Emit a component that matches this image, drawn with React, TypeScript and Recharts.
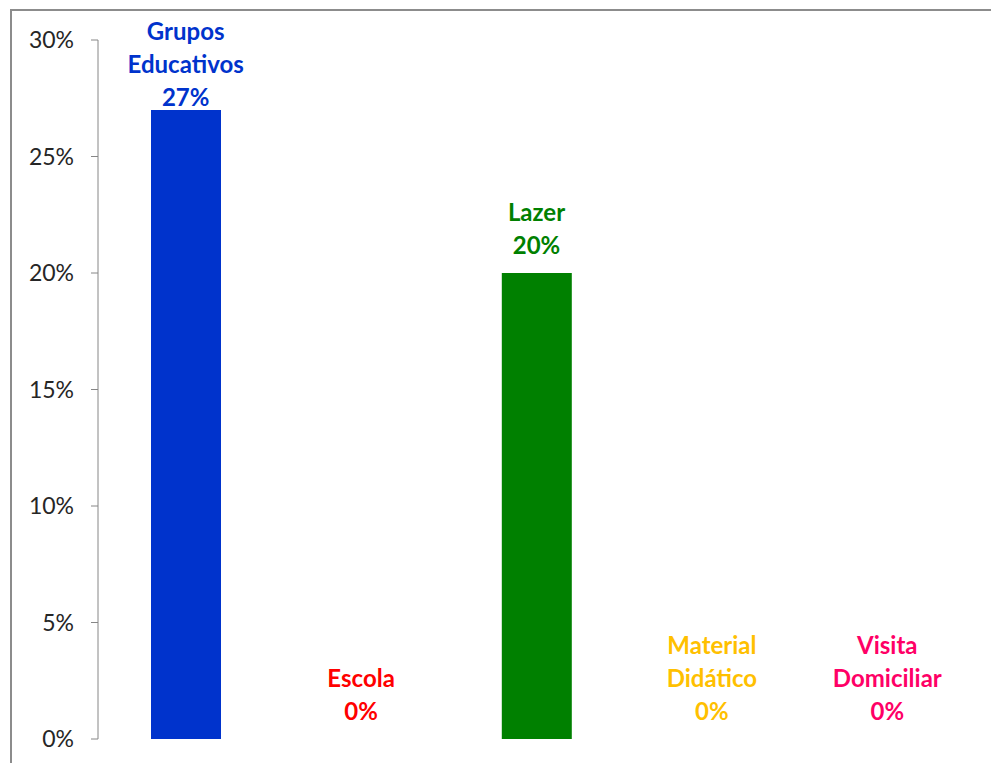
import React from "react";
import { ComposedChart, Bar, Line, XAxis, YAxis, Cell } from "recharts";

const categories = ["Grupos\nEducativos", "Escola", "Lazer", "Material\nDidático", "Visita\nDomiciliar"];
const values = [27, 0, 20, 0, 0];
const colors = ["#0033CC", "#FF0000", "#008000", "#FFC000", "#FF0066"];
const yTicks = [0, 5, 10, 15, 20, 25, 30];

const data = categories.map((name, i) => ({ name, value: values[i], color: colors[i] }));

const FONT = "Lato, 'Open Sans', sans-serif";
const LINE_H = 33;

// labels are hung on an invisible line so that zero bars get one too
const renderLabel = (props: any) => {
  const { x, y, index } = props;
  const d = data[index];
  if (!d) return null;
  const lines = [...d.name.split("\n"), `${d.value}%`];
  // keep the label block inside the chart top, like Excel does
  const lastCenter = Math.max(y - 27, 21 + (lines.length - 1) * LINE_H);
  return (
    <g>
      {lines.map((ln, k) => (
        <text
          key={k}
          x={x}
          y={lastCenter + 8 - (lines.length - 1 - k) * LINE_H}
          textAnchor="middle"
          fill={d.color}
          fontSize={24}
          fontWeight="bold"
          fontFamily={FONT}
        >
          {ln}
        </text>
      ))}
    </g>
  );
};

export default function App() {
  return (
    <div
      style={{
        position: "absolute",
        left: 10,
        top: 9,
        width: 1000,
        height: 780,
        border: "2px solid #8c8c8c",
        background: "#fff",
      }}
    >
      <ComposedChart
        width={980}
        height={760}
        data={data}
        margin={{ top: 29, right: 17, bottom: 32, left: 0 }}
      >
        <XAxis dataKey="name" hide />
        <YAxis
          width={86}
          domain={[0, 30]}
          ticks={yTicks}
          tickFormatter={(v: number) => `${v}%`}
          stroke="#868686"
          tickSize={7}
          tickMargin={17}
          tick={{ fill: "#262626", fontSize: 23, fontFamily: FONT }}
        />
        <Bar dataKey="value" barSize={70} isAnimationActive={false}>
          {data.map((d, i) => (
            <Cell key={i} fill={d.color} />
          ))}
        </Bar>
        <Line
          dataKey="value"
          stroke="none"
          dot={false}
          activeDot={false}
          isAnimationActive={false}
          label={renderLabel}
        />
      </ComposedChart>
    </div>
  );
}
